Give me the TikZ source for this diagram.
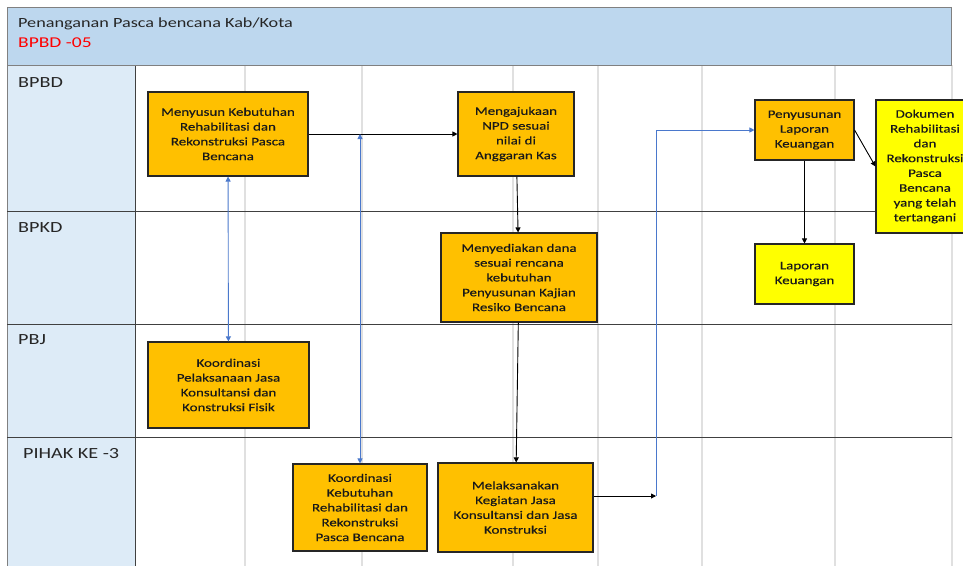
\documentclass[tikz,border=0pt]{standalone}
\usepackage{fontspec}
\setmainfont{Carlito}[FakeStretch=1.3]
\newfontfamily\boxfam{Carlito}[FakeStretch=1.3,FakeBold=0.35]
\usetikzlibrary{arrows.meta}
\definecolor{hdrfill}{HTML}{BDD7EE}
\definecolor{colfill}{HTML}{DDEBF7}
\definecolor{orangebox}{HTML}{FFC000}
\definecolor{yellowbox}{HTML}{FFFF00}
\definecolor{gridln}{HTML}{E0E0E0}
\definecolor{laneln}{HTML}{404040}
\definecolor{hdrln}{HTML}{808080}
\definecolor{blueln}{HTML}{4A78CC}
\definecolor{boxln}{HTML}{262626}
\definecolor{titlered}{HTML}{FF0000}
\newcommand\boxfnt{\boxfam\fontsize{11.5}{14.8}\selectfont}
\newcommand\lanefnt{\fontsize{15.5}{18}\selectfont}
\begin{document}
\begin{tikzpicture}[x=1pt,y=-1pt,
  procbox/.style={draw=boxln, line width=1.1pt, inner sep=0pt, align=center, font=\boxfnt, text=black!90, fill=orangebox},
  ybox/.style={procbox, fill=yellowbox},
  lanelabel/.style={anchor=base west, inner sep=0pt, font=\lanefnt, text=black!85},
  gridline/.style={draw=gridln, line width=1.2pt},
  laneline/.style={draw=laneln, line width=1pt},
  arr/.style={line width=0.9pt, draw=black, -{Triangle[length=5pt,width=5pt]}},
  barr/.style={line width=0.9pt, draw=blueln, -{Triangle[length=5pt,width=5pt]}},
  bdarr/.style={line width=0.9pt, draw=blueln, {Triangle[length=5pt,width=5pt]}-{Triangle[length=5pt,width=5pt]}}
]
\useasboundingbox (0,0) rectangle (963,565);
\clip (0,0) rectangle (963,565);
\fill[white] (0,0) rectangle (963,565);

% grid lines
\foreach \gx in {245,362,513,598,702,835,952}
  \draw[gridline] (\gx,65) -- (\gx,566);
% lane lines
\foreach \ly in {211,324,437}
  \draw[laneline] (7,\ly) -- (952,\ly);

% header
\draw[fill=hdrfill, draw=hdrln, line width=1pt] (7,7) rectangle (951,65);
\node[anchor=base west, inner sep=0pt, font=\fontsize{14}{16}\selectfont, text=black!85] (title) at (18,27) {Penanganan Pasca bencana Kab/Kota};
\node[anchor=base west, inner sep=0pt, font=\fontsize{15}{17}\selectfont, text=titlered] (code) at (18,47) {BPBD -05};

% left column
\draw[fill=colfill, draw=hdrln, line width=1pt] (7,65) rectangle (135,567);
\draw[laneln, line width=1pt] (135,65) -- (135,567);
\draw[hdrln, line width=1pt] (7,65) -- (951,65);
\foreach \ly in {211,324,437}
  \draw[laneline] (7,\ly) -- (135,\ly);
\node[lanelabel] (l1) at (18,87) {BPBD};
\node[lanelabel] (l2) at (18,232) {BPKD};
\node[lanelabel] (l3) at (18,344) {PBJ};
\node[lanelabel] (l4) at (23,458) {PIHAK KE -3};

% boxes
\node[procbox, minimum width=160pt, minimum height=84pt] (b1) at (228,134)
  {Menyusun Kebutuhan\\Rehabilitasi dan\\Rekonstruksi Pasca\\Bencana};
\node[procbox, minimum width=116pt, minimum height=84pt] (b2) at (516,134)
  {Mengajukaan\\NPD sesuai\\nilai di\\Anggaran Kas};
\node[procbox, minimum width=99pt, minimum height=60pt] (b3) at (804.5,130)
  {Penyusunan\\Laporan\\Keuangan};
\node[ybox, minimum width=98pt, minimum height=133pt] (b4) at (925,166.5)
  {Dokumen\\Rehabilitasi\\dan\\Rekonstruksi\\Pasca\\Bencana\\yang telah\\tertangani};
\node[ybox, minimum width=99pt, minimum height=60pt] (b5) at (804.5,274)
  {Laporan\\Keuangan};
\node[procbox, minimum width=156pt, minimum height=89pt] (b6) at (519,277.5)
  {Menyediakan dana\\sesuai rencana\\kebutuhan\\Penyusunan Kajian\\Resiko Bencana};
\node[procbox, minimum width=161pt, minimum height=86pt] (b7) at (228.5,385)
  {Koordinasi\\Pelaksanaan Jasa\\Konsultansi dan\\Konstruksi Fisik};
\node[procbox, minimum width=134pt, minimum height=87pt] (b8) at (360,507.5)
  {Koordinasi\\Kebutuhan\\Rehabilitasi dan\\Rekonstruksi\\Pasca Bencana};
\node[procbox, minimum width=155pt, minimum height=89pt] (b9) at (515.5,507.5)
  {Melaksanakan\\Kegiatan Jasa\\Konsultansi dan Jasa\\Konstruksi};

% connectors
\draw[arr] (b1) -- (b2);
\draw[arr] (b2) -- (b6);
\draw[arr] (b6) -- (b9);
\coordinate (j) at (656,496);
\draw[arr] (b9.east |- j) -- (j);
\draw[barr] (j) |- (b3.west);
\draw[arr] (b3) -- (b5);
\draw[arr] (b3.east) -- (b4.west);
\draw[bdarr] (b1) -- (b7);
\coordinate (k) at (b8.north |- b1.east);
\draw[bdarr] (b8.north) -- (k);
\end{tikzpicture}
\end{document}
